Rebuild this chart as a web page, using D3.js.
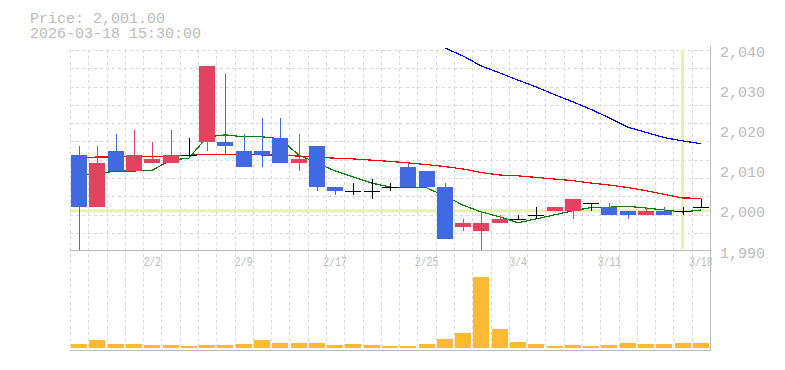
<!DOCTYPE html>
<html>
<head>
<meta charset="utf-8">
<style>
  body { margin: 0; background: #fff; }
  svg { display: block; }
  text { font-family: "Liberation Mono", "DejaVu Sans Mono", monospace; fill: #bbb; }
</style>
</head>
<body>
<svg id="stage" width="785" height="370"></svg>
<script src="https://cdn.jsdelivr.net/npm/d3@7"></script>
<script>
var dates = ['1/27', '1/28', '1/29', '1/30', '2/2', '2/3', '2/4', '2/5', '2/6', '2/9',
             '2/10', '2/12', '2/13', '2/16', '2/17', '2/18', '2/19', '2/20', '2/24', '2/25',
             '2/26', '2/27', '3/2', '3/3', '3/4', '3/5', '3/6', '3/9', '3/10', '3/11',
             '3/12', '3/13', '3/16', '3/17', '3/18'];

var open  = [2014, 2001, 2015, 2010, 2012, 2012, 2014, 2017, 2017, 2015,
             2015, 2018, 2012, 2016, 2006, 2005, 2005, 2006, 2011, 2010,
             2006, 1996, 1995, 1997, 1998, 1999, 2000, 2000, 2002, 2001,
             2000, 1999, 2000, 2000, 2001];
var high  = [2016, 2016, 2019, 2020, 2017, 2020, 2018, 2036, 2034, 2019,
             2023, 2023, 2019, 2016, 2006, 2007, 2008, 2007, 2012, 2010,
             2007, 1998, 2000, 1999, 1999, 2001, 2001, 2003, 2002, 2002,
             2000, 2001, 2001, 2001, 2003];
var low   = [1990, 2001, 2010, 2010, 2012, 2012, 2014, 2015, 2014, 2011,
             2011, 2012, 2010, 2005, 2004, 2004, 2003, 2005, 2006, 2006,
             1993, 1995, 1990, 1997, 1998, 1998, 2000, 1998, 2000, 1999,
             1998, 1999, 1999, 1999, 2001];
var close = [2001, 2012, 2010, 2014, 2013, 2014, 2014, 2036, 2016, 2011,
             2014, 2012, 2013, 2006, 2005, 2005, 2005, 2006, 2006, 2006,
             1993, 1997, 1997, 1998, 1998, 1999, 2001, 2003, 2002, 1999,
             1999, 2000, 1999, 2000, 2001];

var volume = [4100, 8200, 4000, 4100, 3200, 3100, 2200, 3000, 3100, 4000,
              8100, 5200, 5100, 5000, 3000, 4100, 3200, 2100, 2200, 4000,
              9100, 15300, 71400, 19200, 6100, 4000, 2100, 3000, 2200, 3100,
              5000, 4100, 4200, 5100, 5000];

var ma5  = [2008.9, 2009.2, 2009.9, 2009.9, 2010.1, 2012.6, 2013.1, 2018.4, 2018.9, 2018.4,
            2018.4, 2017.9, 2013.9, 2011.9, 2009.9, 2008.4, 2006.9, 2005.9, 2005.7, 2005.7,
            2003.7, 2001.4, 1999.7, 1998.5, 1997.0, 1998.0, 1999.0, 2000.0, 2000.8, 2000.9,
            2001.1, 2000.7, 2000.2, 1999.7, 2000.2];
var ma25 = [2013.1, 2013.4, 2013.4, 2013.5, 2013.6, 2013.6, 2013.8, 2014.1, 2014.1, 2014.0,
            2013.9, 2013.9, 2013.6, 2013.3, 2013.1, 2012.9, 2012.6, 2012.3, 2011.9, 2011.5,
            2011.0, 2010.4, 2009.5, 2008.9, 2008.7, 2008.3, 2007.9, 2007.5, 2006.9, 2006.4,
            2005.8, 2005.0, 2004.1, 2003.2, 2003.1];
var ma75 = [null, null, null, null, null, null, null, null, null, null,
            null, null, null, null, null, null, null, null, null, null,
            2040.5, 2038.5, 2036.0, 2034.3, 2032.5, 2030.8, 2028.9, 2027.1, 2025.2, 2023.1,
            2020.8, 2019.5, 2018.2, 2017.4, 2016.7];

var priceTicks = [1990, 2000, 2010, 2020, 2030, 2040];
var dateTicks = ['2/2', '2/9', '2/17', '2/25', '3/4', '3/11', '3/18'];

var lastPrice = 2001,
    lastTime = '2026-03-18 15:30:00',
    markDate = '3/17',
    markPrice = 2000;

var svg = d3.select('#stage'),
    LEFT = 70,
    RIGHT = 710,
    TOP = 50,
    BOTTOM = 251,
    VOL_BOTTOM = 348,
    VOL_TOP = 276,
    BLUE = '#4169e1',
    RED = '#e2435f',
    GRID = '#dadada',
    AXIS = '#bbb';

var x = d3.scaleBand()
  .domain(dates)
  .range([LEFT, RIGHT])
  .paddingInner(0.125)
  .paddingOuter(0.0625);

var y = d3.scaleLinear()
  .domain([1990, 2040])
  .range([BOTTOM, BOTTOM - 50 * 4.02]);

var yVol = d3.scaleLinear()
  .domain([0, 72000])
  .range([VOL_BOTTOM, VOL_TOP]);

var step = x.step(),
    bw = x.bandwidth();

function cx(i) { return x(dates[i]) + bw / 2; }

// grid
var grid = svg.append('g')
  .attr('stroke', GRID)
  .attr('stroke-dasharray', '3,3')
  .attr('shape-rendering', 'crispEdges');

grid.selectAll('line.v')
  .data(d3.range(dates.length))
  .enter().append('line')
  .attr('class', 'v')
  .attr('x1', function (d) { return Math.round(LEFT + d * step) + 0.5; })
  .attr('x2', function (d) { return Math.round(LEFT + d * step) + 0.5; })
  .attr('y1', TOP)
  .attr('y2', VOL_BOTTOM + 1);

grid.selectAll('line.h')
  .data(d3.range(11))
  .enter().append('line')
  .attr('class', 'h')
  .attr('x1', LEFT)
  .attr('x2', RIGHT)
  .attr('y1', function (d) { return Math.round(TOP + d * step) + 0.5; })
  .attr('y2', function (d) { return Math.round(TOP + d * step) + 0.5; });

// crosshair
svg.append('line')
  .attr('x1', LEFT).attr('x2', RIGHT)
  .attr('y1', y(markPrice)).attr('y2', y(markPrice))
  .attr('stroke', '#e2f3b0')
  .attr('stroke-width', 3);

svg.append('line')
  .attr('x1', x(markDate) + bw / 2).attr('x2', x(markDate) + bw / 2)
  .attr('y1', TOP).attr('y2', BOTTOM - 2)
  .attr('stroke', '#e2f3b0')
  .attr('stroke-width', 3);

// moving averages
function maLine(values, color) {
  var line = d3.line()
    .defined(function (d) { return d != null; })
    .x(function (d, i) { return cx(i); })
    .y(function (d) { return y(d); });
  svg.append('path')
    .datum(values)
    .attr('d', line)
    .attr('fill', 'none')
    .attr('stroke', color)
    .attr('stroke-width', 1.2)
    .attr('shape-rendering', 'crispEdges');
}

maLine(ma75, '#0000ff');
maLine(ma25, '#ff0000');
maLine(ma5, '#008000');

// candles
function candleColor(i) {
  if (close[i] > open[i]) return RED;
  if (close[i] < open[i]) return BLUE;
  return '#000';
}

var candles = svg.selectAll('g.candle')
  .data(dates)
  .enter().append('g')
  .attr('class', 'candle')
  .attr('shape-rendering', 'crispEdges');

candles.append('line')
  .attr('x1', function (d, i) { return Math.round(cx(i)) + 0.5; })
  .attr('x2', function (d, i) { return Math.round(cx(i)) + 0.5; })
  .attr('y1', function (d, i) { return y(high[i]); })
  .attr('y2', function (d, i) { return y(low[i]); })
  .attr('stroke', function (d, i) { return candleColor(i); })
  .attr('stroke-width', 1);

candles.append('rect')
  .attr('x', function (d) { return x(d); })
  .attr('width', bw)
  .attr('y', function (d, i) { return y(Math.max(open[i], close[i])); })
  .attr('height', function (d, i) {
    return Math.max(1.5, y(Math.min(open[i], close[i])) - y(Math.max(open[i], close[i])));
  })
  .attr('fill', function (d, i) { return candleColor(i); });

// volume
svg.selectAll('rect.vol')
  .data(dates)
  .enter().append('rect')
  .attr('class', 'vol')
  .attr('x', function (d) { return x(d); })
  .attr('width', bw)
  .attr('y', function (d, i) { return yVol(volume[i]); })
  .attr('height', function (d, i) { return VOL_BOTTOM - yVol(volume[i]); })
  .attr('fill', '#ffb933')
  .attr('shape-rendering', 'crispEdges');

// axis lines
var axisLines = svg.append('g')
  .attr('stroke', AXIS)
  .attr('shape-rendering', 'crispEdges');

axisLines.append('line')
  .attr('x1', LEFT).attr('x2', RIGHT)
  .attr('y1', BOTTOM - 0.5).attr('y2', BOTTOM - 0.5);

axisLines.append('line')
  .attr('x1', LEFT).attr('x2', RIGHT + 1)
  .attr('y1', VOL_BOTTOM + 2.5).attr('y2', VOL_BOTTOM + 2.5)
  .attr('stroke-width', 1.5);

axisLines.append('line')
  .attr('x1', RIGHT + 0.5).attr('x2', RIGHT + 0.5)
  .attr('y1', TOP - 4).attr('y2', VOL_BOTTOM + 3);

// price labels
var yAxis = svg.append('g')
  .attr('transform', 'translate(' + RIGHT + ',0)')
  .call(d3.axisRight(y)
    .tickValues(priceTicks)
    .tickSize(0)
    .tickPadding(10)
    .tickFormat(d3.format(',')));

yAxis.select('.domain').remove();
yAxis.selectAll('text')
  .attr('dy', '0.4em')
  .style('font-size', '15px')
  .style('font-family', '"Liberation Mono", monospace')
  .attr('fill', AXIS);

// date labels
var xAxis = svg.append('g')
  .attr('transform', 'translate(0,' + BOTTOM + ')')
  .call(d3.axisBottom(x)
    .tickValues(dateTicks)
    .tickSize(0));

xAxis.select('.domain').remove();
xAxis.selectAll('text')
  .attr('y', 15)
  .attr('dy', 0)
  .attr('textLength', function (d) { return d.length * 5.9; })
  .attr('lengthAdjust', 'spacingAndGlyphs')
  .style('font-size', '13px')
  .style('font-family', '"Liberation Mono", monospace')
  .attr('fill', AXIS);

// header
svg.append('text')
  .attr('x', 30)
  .attr('y', 23)
  .style('font-size', '15px')
  .text('Price: ' + d3.format(',.2f')(lastPrice));

svg.append('text')
  .attr('x', 30)
  .attr('y', 38)
  .style('font-size', '15px')
  .text(lastTime);
</script>
</body>
</html>
